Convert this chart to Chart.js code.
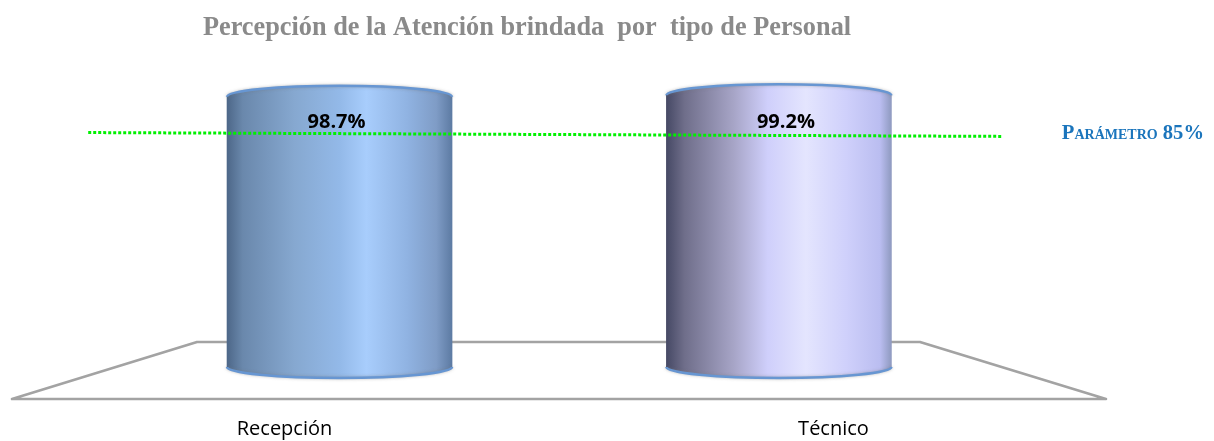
<!DOCTYPE html>
<html>
<head>
<meta charset="utf-8">
<title>Percepción de la Atención</title>
<script src="https://cdn.jsdelivr.net/npm/chart.js@4"></script>
<style>
  html, body { margin: 0; padding: 0; background: #fff; }
  canvas { display: block; }
</style>
</head>
<body>
<canvas id="cylinders" width="1214" height="441"></canvas>
<script>
var categories = ["Recepción", "Técnico"];
var percepcion = [98.7, 99.2];
var barPositions = [0, 1];
var parametroPositions = [-0.572, 1.507];
var parametroValues = [85.6, 84.2];
var chartTitle = "Percepción de la Atención brindada  por  tipo de Personal";
var parametroLabel = "Parámetro 85%";

var BAR_WIDTH = 225;
var CAP_RY = 11;
var palettes = [
  [[0, "#4d6788"], [0.07, "#6a88ac"], [0.3, "#86a8d0"], [0.5, "#93b9e8"], [0.62, "#a8cdfc"], [0.8, "#90b3e2"], [0.93, "#7f9cc6"], [1, "#5d7ba3"]],
  [[0, "#464965"], [0.08, "#6f6e8a"], [0.3, "#a7a5c7"], [0.45, "#cfcffb"], [0.62, "#e4e5fe"], [0.8, "#cfd0fb"], [0.95, "#babdf0"], [1, "#8f9ac0"]],
];

function cylinderFill(ctx) {
  var chart = ctx.chart;
  if (!chart.chartArea || ctx.dataIndex === undefined) return "#93b9e8";
  var cx = chart.scales.pos.getPixelForValue(barPositions[ctx.dataIndex]);
  var g = chart.ctx.createLinearGradient(cx - BAR_WIDTH / 2, 0, cx + BAR_WIDTH / 2, 0);
  palettes[ctx.dataIndex].forEach(function (s) {
    g.addColorStop(s[0], s[1]);
  });
  return g;
}

// rounded end of the cylinder: full ellipse fill so no seam shows, outer arc stroked
function drawCap(c, bar, y, top) {
  var rx = bar.width / 2;
  c.save();
  c.beginPath();
  c.ellipse(bar.x, y, rx, CAP_RY, 0, 0, Math.PI * 2);
  c.fillStyle = bar.options.backgroundColor;
  c.fill();
  c.beginPath();
  c.ellipse(bar.x, y, rx, CAP_RY, 0, Math.PI, 0, !top);
  c.strokeStyle = "#6796d2";
  c.lineWidth = 2.5;
  c.shadowColor = "rgba(120,120,120,0.5)";
  c.shadowBlur = 3;
  c.stroke();
  c.restore();
}

var cylinderPlugin = {
  id: "cylinderPlugin",
  beforeDatasetsDraw: function (chart) {
    var c = chart.ctx, a = chart.chartArea;
    c.save();
    c.strokeStyle = "#a3a3a3";
    c.lineWidth = 2.6;
    c.lineJoin = "round";
    c.beginPath();
    c.moveTo(a.left + 2, a.bottom + 32);
    c.lineTo(a.right - 2, a.bottom + 32);
    c.lineTo(a.right - 188, a.bottom - 25);
    c.lineTo(a.left + 187, a.bottom - 25);
    c.closePath();
    c.stroke();
    c.restore();
  },
  afterDatasetDraw: function (chart, args) {
    if (args.index !== 0) return;
    args.meta.data.forEach(function (bar) {
      drawCap(chart.ctx, bar, bar.y, true);
      drawCap(chart.ctx, bar, bar.base, false);
    });
  },
  afterDatasetsDraw: function (chart) {
    var c = chart.ctx;
    var shift = [-3, 7];
    c.save();
    c.textAlign = "center";
    c.textBaseline = "alphabetic";
    c.fillStyle = "#000";
    c.font = "bold 20px 'Open Sans'";
    chart.getDatasetMeta(0).data.forEach(function (bar, i) {
      c.fillText(percepcion[i].toFixed(1) + "%", bar.x + shift[i], 128);
    });
    c.fillStyle = "#8a8a8a";
    c.font = "bold 26.3px 'Liberation Serif'";
    c.fillText(chartTitle, 527, 35);
    c.fillStyle = "#1b75bc";
    c.font = "small-caps bold 20.6px 'Liberation Serif'";
    c.textAlign = "right";
    c.fillText(parametroLabel, 1204, 139);
    c.restore();
  },
};

new Chart(document.getElementById("cylinders"), {
  type: "bar",
  data: {
    labels: categories,
    datasets: [
      {
        label: "Percepción",
        xAxisID: "pos",
        order: 2,
        data: percepcion.map(function (v, i) {
          return { x: barPositions[i], y: v };
        }),
        backgroundColor: cylinderFill,
        borderWidth: 0,
        barThickness: BAR_WIDTH,
      },
      {
        type: "line",
        label: parametroLabel,
        xAxisID: "pos",
        order: 1,
        data: parametroValues.map(function (v, i) {
          return { x: parametroPositions[i], y: v };
        }),
        borderColor: "#00f000",
        borderWidth: 3,
        borderDash: [3, 2],
        pointRadius: 0,
        fill: false,
      },
    ],
  },
  options: {
    responsive: false,
    animation: false,
    layout: { padding: { left: 10, right: 106, top: 0, bottom: 0 } },
    plugins: {
      legend: { display: false },
      title: { display: false },
      tooltip: { enabled: false },
    },
    scales: {
      x: {
        type: "category",
        grid: { display: false, drawTicks: false },
        border: { display: false },
        afterFit: function (scale) {
          scale.height = 74;
        },
        ticks: {
          color: "#000",
          padding: 50,
          maxRotation: 0,
          font: { family: "Open Sans", size: 20 },
        },
      },
      pos: {
        type: "linear",
        display: false,
        offset: false,
        min: -0.75,
        max: 1.749,
      },
      y: {
        display: false,
        min: 0,
        max: 134,
      },
    },
  },
  plugins: [cylinderPlugin],
});
</script>
</body>
</html>
